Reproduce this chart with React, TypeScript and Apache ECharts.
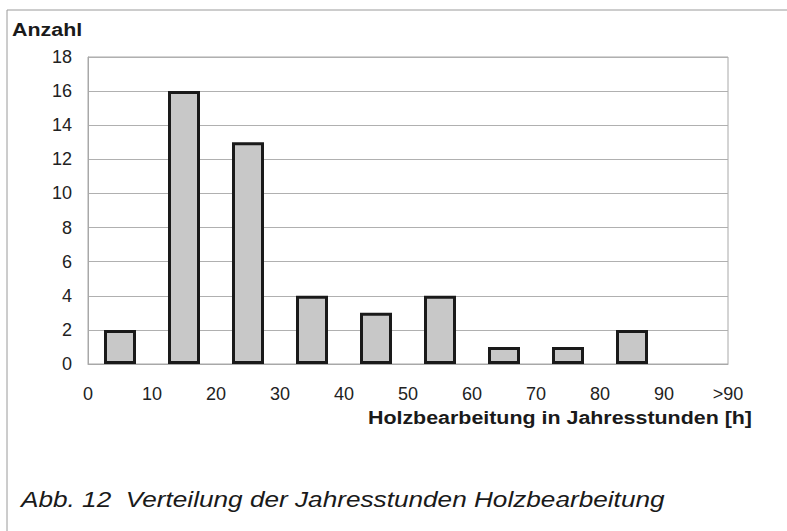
import React, { useEffect, useRef } from "react";
import * as echarts from "echarts";

const binCenters = [5, 15, 25, 35, 45, 55, 65, 75, 85];
const counts = [2, 16, 13, 4, 3, 4, 1, 1, 2];
const xTickValues = [0, 10, 20, 30, 40, 50, 60, 70, 80, 90, 100];
const xTickLabels = ["0", "10", "20", "30", "40", "50", "60", "70", "80", "90", ">90"];
const yLabel = "Anzahl";
const xLabel = "Holzbearbeitung in Jahresstunden [h]";
const caption = "Abb. 12  Verteilung der Jahresstunden Holzbearbeitung";

export default function App() {
  const ref = useRef<HTMLDivElement>(null);
  useEffect(() => {
    if (!ref.current) return;
    const chart = echarts.init(ref.current, null, { renderer: "svg" });
    const font = "'Liberation Sans', Arial, Helvetica, sans-serif";
    chart.setOption({
      animation: false,
      backgroundColor: "#ffffff",
      grid: {
        left: 88,
        top: 57,
        right: 59,
        bottom: 167,
        show: true,
        borderColor: "#a8a8a8",
        borderWidth: 1,
      },
      xAxis: {
        type: "value",
        min: 0,
        max: 100,
        interval: 10,
        axisLine: { show: true, lineStyle: { color: "#a8a8a8" } },
        axisTick: { show: false },
        splitLine: { show: false },
        axisLabel: {
          margin: 21,
          fontFamily: font,
          fontSize: 18,
          color: "#222",
          formatter: (v: number) => {
            const i = xTickValues.indexOf(v);
            return i >= 0 ? xTickLabels[i] : "";
          },
        },
      },
      yAxis: {
        type: "value",
        min: 0,
        max: 18,
        interval: 2,
        axisLine: { show: true, lineStyle: { color: "#a8a8a8" } },
        axisTick: { show: false },
        splitLine: { show: true, lineStyle: { color: "#b0b0b0", width: 1 } },
        axisLabel: {
          margin: 16,
          fontFamily: font,
          fontSize: 18,
          color: "#222",
        },
      },
      series: [
        {
          type: "bar",
          barWidth: 32,
          data: binCenters.map((c, i) => [c, counts[i]]),
          itemStyle: {
            color: "#c8c8c8",
            borderColor: "#1a1a1a",
            borderWidth: 3,
          },
        },
      ],
      graphic: [
        {
          type: "line",
          shape: { x1: 7, y1: 10, x2: 787, y2: 10 },
          style: { stroke: "#9a9a9a", lineWidth: 1 },
        },
        {
          type: "line",
          shape: { x1: 7, y1: 10, x2: 7, y2: 531 },
          style: { stroke: "#9a9a9a", lineWidth: 1 },
        },
        {
          type: "text",
          x: 12,
          y: 30,
          scaleX: 1.19,
          style: {
            text: yLabel,
            font: `bold 18px ${font}`,
            fill: "#1a1a1a",
            align: "left",
            verticalAlign: "middle",
          },
        },
        {
          type: "text",
          x: 752,
          y: 418,
          scaleX: 1.19,
          style: {
            text: xLabel,
            font: `bold 18px ${font}`,
            fill: "#1a1a1a",
            align: "right",
            verticalAlign: "middle",
          },
        },
        {
          type: "text",
          x: 21,
          y: 499,
          scaleX: 1.19,
          style: {
            text: caption,
            font: `italic 22px ${font}`,
            fill: "#1a1a1a",
            align: "left",
            verticalAlign: "middle",
          },
        },
      ],
    });
    return () => chart.dispose();
  }, []);
  return (
    <div
      ref={ref}
      style={{ position: "fixed", left: 0, top: 0, width: 787, height: 531 }}
    />
  );
}
